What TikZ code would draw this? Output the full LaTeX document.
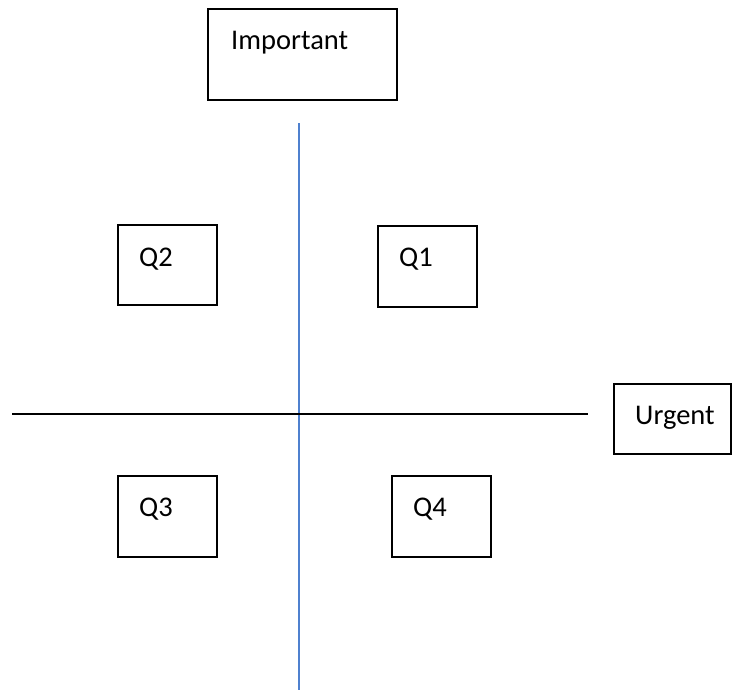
\documentclass[tikz,border=0pt]{standalone}
\usepackage{fontspec}
\setmainfont{Carlito}
\begin{document}
\begin{tikzpicture}[x=1pt,y=-1pt,
  box/.style={draw=black,line width=1.4pt,fill=white},
  lbl/.style={anchor=base west,inner sep=0pt,font=\fontsize{28.5}{34}\selectfont},
  axis/.style={line width=1.8pt}]
\useasboundingbox[fill=white] (0,0) rectangle (732,696);
% axes
\coordinate (vt) at (299,123);
\coordinate (vb) at (299,690);
\coordinate (hl) at (12,414);
\coordinate (hr) at (588,414);
\draw[axis,draw={rgb,255:red,79;green,129;blue,207}] (vt) -- (vb);
\draw[axis,black] (hl) -- (hr);
% boxes
\draw[box] (208,9) rectangle (397,100);
\node[lbl] (imp) at (231,49) {Important};
\draw[box] (118,225) rectangle (217,305);
\node[lbl] (q2) at (139,266) {Q2};
\draw[box] (378,226) rectangle (477,307);
\node[lbl] (q1) at (399,266) {Q1};
\draw[box] (118,476) rectangle (217,557);
\node[lbl] (q3) at (139,516) {Q3};
\draw[box] (392,476) rectangle (491,557);
\node[lbl] (q4) at (413,516) {Q4};
\draw[box] (614,384) rectangle (731,454);
\node[lbl] (urg) at (635,424) {Urgent};
\end{tikzpicture}
\end{document}
